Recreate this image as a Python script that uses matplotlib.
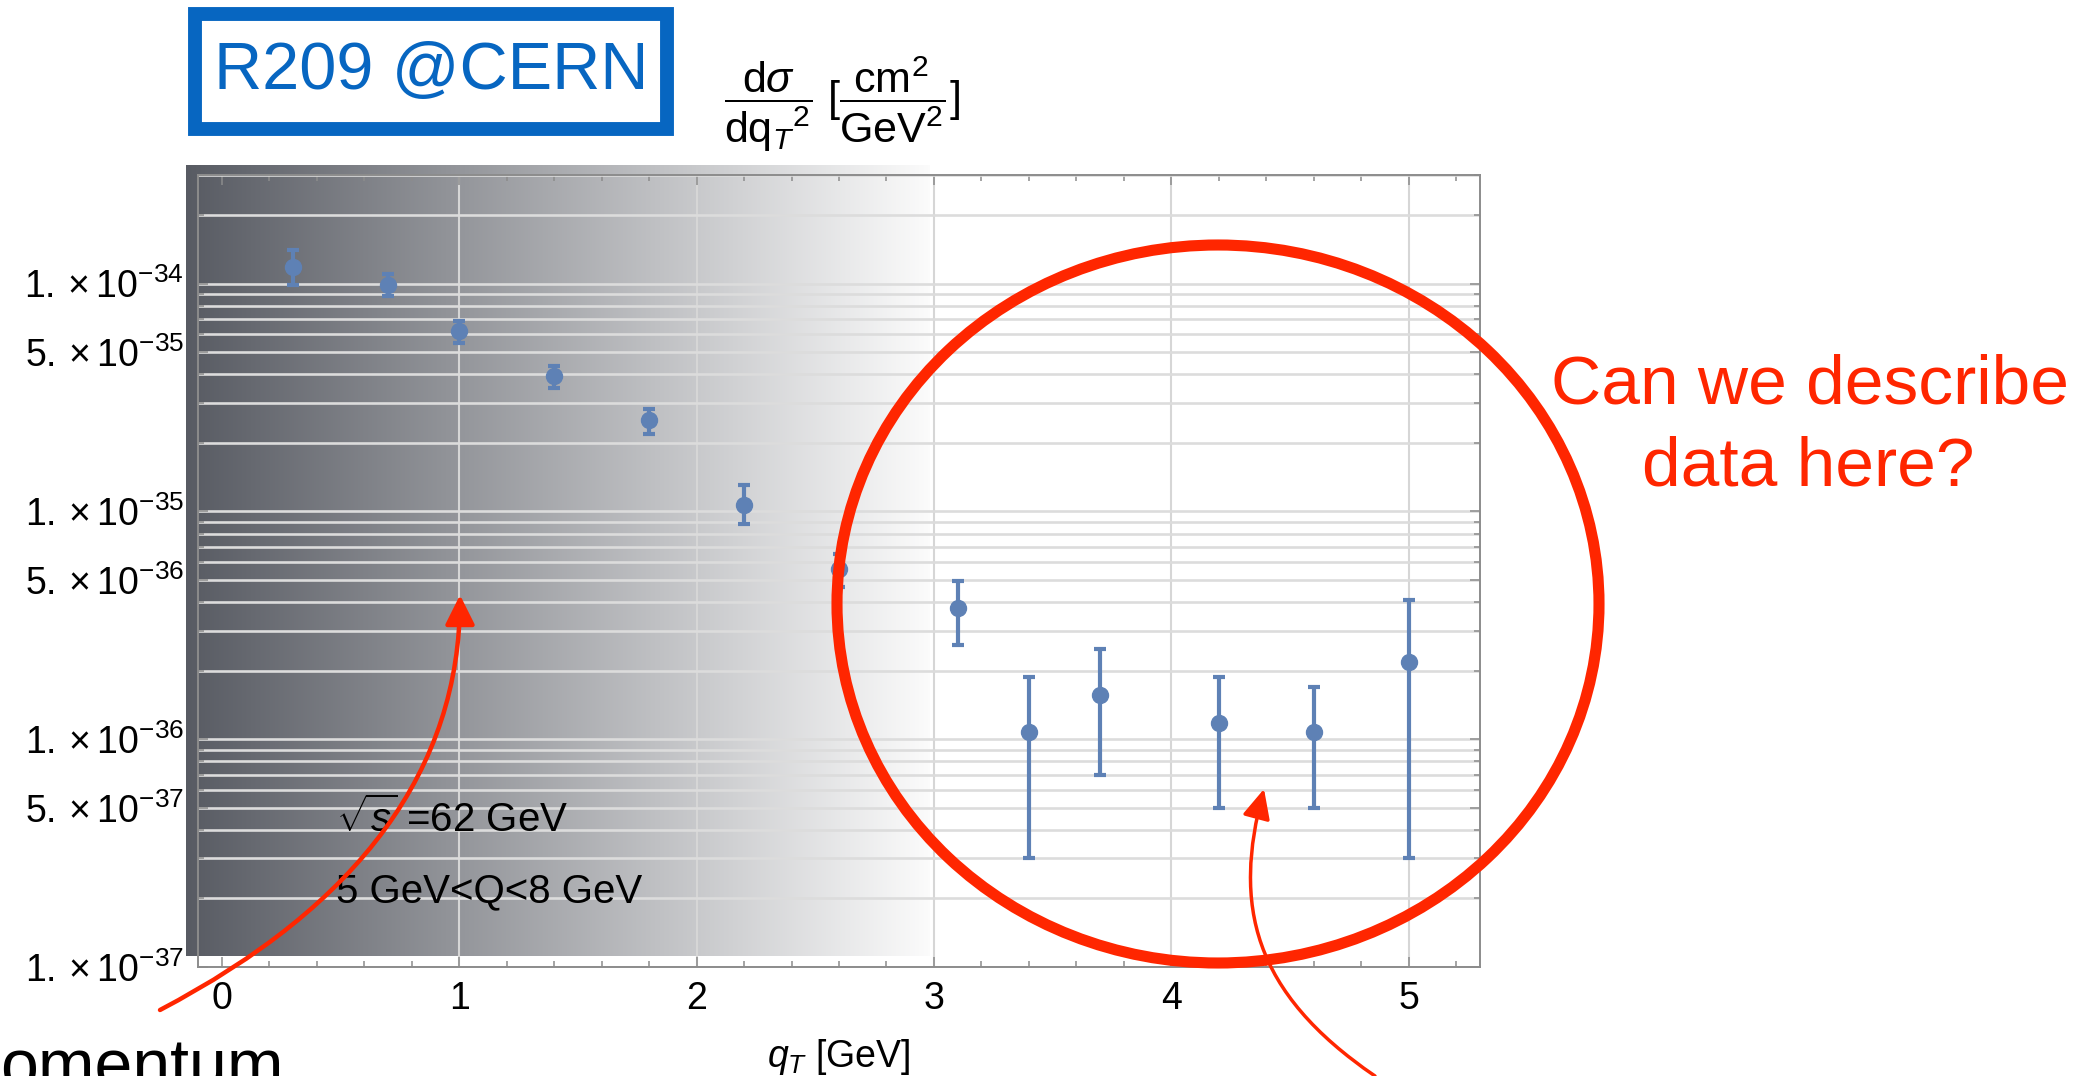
import numpy as np
import matplotlib.pyplot as plt
from matplotlib.patches import Ellipse, Rectangle, FancyArrowPatch
from matplotlib.path import Path
from matplotlib.ticker import FixedLocator, FixedFormatter, NullFormatter

plt.rcParams['font.family'] = ['Liberation Sans', 'DejaVu Sans']
plt.rcParams['mathtext.fontset'] = 'custom'
plt.rcParams['mathtext.rm'] = 'Liberation Sans'
plt.rcParams['mathtext.it'] = 'Liberation Sans:italic'
plt.rcParams['mathtext.bf'] = 'Liberation Sans:bold'

# data (R209, sqrt(s)=62 GeV, 5<Q<8 GeV)
qT = np.array([0.3, 0.7, 1.0, 1.4, 1.8, 2.2, 2.6, 3.1, 3.4, 3.7, 4.2, 4.6, 5.0])
xsec = np.array([1.18e-34, 0.99e-34, 6.2e-35, 3.93e-35, 2.52e-35, 1.07e-35, 5.6e-36,
                 3.76e-36, 1.08e-36, 1.57e-36, 1.18e-36, 1.08e-36, 2.18e-36])
xsec_hi = np.array([1.41e-34, 1.105e-34, 6.85e-35, 4.35e-35, 2.83e-35, 1.30e-35, 6.5e-36,
                    4.97e-36, 1.88e-36, 2.48e-36, 1.88e-36, 1.69e-36, 4.08e-36])
xsec_lo = np.array([0.99e-34, 0.885e-34, 5.5e-35, 3.5e-35, 2.18e-35, 8.85e-36, 4.65e-36,
                    2.58e-36, 3.0e-37, 7.0e-37, 5.0e-37, 5.0e-37, 3.0e-37])

xticks = [0, 1, 2, 3, 4, 5]
xtick_labels = ['0', '1', '2', '3', '4', '5']
yticks = [1e-37, 5e-37, 1e-36, 5e-36, 1e-35, 5e-35, 1e-34]
ytick_labels = [r'$1.\times10^{-37}$', r'$5.\times10^{-37}$', r'$1.\times10^{-36}$',
                r'$5.\times10^{-36}$', r'$1.\times10^{-35}$', r'$5.\times10^{-35}$',
                r'$1.\times10^{-34}$']

blue = '#5e81b5'
red = '#ff2600'
boxblue = '#0766c1'

W, H = 2090, 1076
fig = plt.figure(figsize=(W / 100, H / 100), dpi=100)


def fx(px):
    return px / W


def fy(py):
    return 1 - py / H


# shaded background behind the low-qT region
ax_bg = fig.add_axes([fx(186), fy(956), (930 - 186) / W, (956 - 165) / H])
c0 = np.array([0.345, 0.357, 0.388])
c1 = np.array([0.985, 0.985, 0.985])
t = np.linspace(0, 1, 400)[None, :, None]
grad = c0 + (c1 - c0) * t
ax_bg.imshow(grad, aspect='auto', extent=(0, 1, 0, 1))
ax_bg.axis('off')

# main plot
ax = fig.add_axes([fx(198), fy(967), (1480 - 198) / W, (967 - 175) / H])
ax.patch.set_visible(False)
ax.set_yscale('log')
ax.set_xlim(-0.1, 5.3)
ax.set_ylim(1e-37, 3e-34)

ax.errorbar(qT, xsec, yerr=[xsec - xsec_lo, xsec_hi - xsec], fmt='o', color=blue,
            ms=11.5, elinewidth=3, capsize=4.6, capthick=3, zorder=3)

ax.set_xticks(xticks)
ax.set_xticklabels(xtick_labels)
ax.set_xticks(np.arange(-0.0, 5.3, 0.2), minor=True)
ax.yaxis.set_major_locator(FixedLocator(yticks))
ax.yaxis.set_major_formatter(FixedFormatter(ytick_labels))
minor_y = [m * 10.0 ** e for e in range(-37, -33) for m in (2, 3, 4, 6, 7, 8, 9)]
ax.yaxis.set_minor_locator(FixedLocator(minor_y))
ax.yaxis.set_minor_formatter(NullFormatter())

ax.grid(True, axis='y', which='both', color='#dcdcdc', lw=1.9, zorder=1)
ax.grid(True, axis='x', which='major', color='#d6d6d6', lw=1.5, zorder=1)
ax.get_xgridlines()[0].set_visible(False)
ax.set_axisbelow(True)

for s in ax.spines.values():
    s.set_color('#8c8c8c')
    s.set_linewidth(1.4)
ax.tick_params(which='both', direction='in', top=True, right=True, color='#8c8c8c', width=1.1)
ax.tick_params(which='major', length=7, labelsize=27, pad=10)
ax.tick_params(which='minor', length=4)

ax.set_xlabel(r'$q_T$ [GeV]', fontsize=27)
ax.xaxis.set_label_coords(0.5, -0.088)
ax.xaxis.label.set_va('top')

ax.text(fx(336), fy(832), r'$\sqrt{s}$ =62 GeV', transform=fig.transFigure,
        fontsize=29, va='baseline')
ax.text(fx(336), fy(902), '5 GeV<Q<8 GeV', transform=fig.transFigure,
        fontsize=29, va='baseline')

# y axis title above the plot
fig.text(fx(842), fy(104),
         r'$\dfrac{\mathrm{d}\sigma}{\mathrm{dq}_T{}^{2}}\ [\dfrac{\mathrm{cm}^{2}}{\mathrm{GeV}^{2}}]$',
         ha='center', va='center', fontsize=31)

# experiment box
fig.add_artist(Rectangle((fx(195), fy(129)), (667 - 195) / W, (129 - 14) / H,
                         transform=fig.transFigure, fill=False, ec=boxblue, lw=10))
fig.text(fx(431), fy(72), 'R209 @CERN', color=boxblue, fontsize=48,
         ha='center', va='center')

# annotations
fig.add_artist(Ellipse((fx(1218), fy(604)), 2 * 381 / W, 2 * 359 / H,
                       transform=fig.transFigure, fill=False, ec=red, lw=8, zorder=10))
fig.text(fx(1810), fy(403), 'Can we describe', color=red, fontsize=50,
         ha='center', va='baseline')
fig.text(fx(1808), fy(485), 'data here?', color=red, fontsize=50,
         ha='center', va='baseline')
fig.text(0, fy(1088), 'omentum', fontsize=49, va='baseline')

pa = Path([(fx(160), fy(1010)), (fx(460), fy(853)), (fx(460), fy(595))],
          [Path.MOVETO, Path.CURVE3, Path.CURVE3])
fig.add_artist(FancyArrowPatch(path=pa, transform=fig.transFigure, color=red, lw=3.2,
                               arrowstyle='-|>,head_length=18,head_width=9',
                               mutation_scale=1, zorder=10))
pb = Path([(fx(1375), fy(1076)), (fx(1252), fy(992)), (fx(1233), fy(905)), (fx(1264), fy(789))],
          [Path.MOVETO, Path.CURVE4, Path.CURVE4, Path.CURVE4])
fig.add_artist(FancyArrowPatch(path=pb, transform=fig.transFigure, color=red, lw=2.5,
                               arrowstyle='-|>,head_length=18,head_width=8.5',
                               mutation_scale=1, zorder=10))

fig.savefig('out.png', dpi=100)
